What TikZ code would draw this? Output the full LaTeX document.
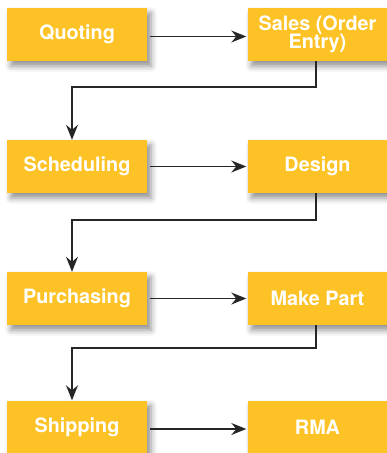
\documentclass[tikz,border=0pt]{standalone}
\usepackage{fontspec}
\setmainfont{TeX Gyre Heros}
\usetikzlibrary{arrows.meta,shadows.blur}

\definecolor{boxbgcolor}{HTML}{FDC326}
\colorlet{boxfgcolor}{white}
\colorlet{linecolor}{black!85}

\tikzset{
    stepbox/.style={fill=boxbgcolor, text=boxfgcolor, inner sep=0pt,
        minimum width=140pt, minimum height=53pt, align=center,
        font=\bfseries\fontsize{19.8}{18.6}\selectfont,
        blur shadow={shadow xshift=4pt, shadow yshift=-5pt,
            shadow blur radius=6pt, shadow opacity=45}},
    flow/.style={draw=linecolor, line width=1.5pt,
        -{Stealth[length=15pt, width=12pt, inset=5pt]}},
}

\begin{document}
\begin{tikzpicture}[x=1pt, y=1pt]
        \useasboundingbox (0,0) rectangle (387,-453);

        \node (Q) [stepbox] at (77,-34.5) {Quoting};
        \node (S) [stepbox] at (317.5,-34.5) {Sales (Order\\Entry)};
        \node (C) [stepbox] at (77,-166.5) {Scheduling};
        \node (D) [stepbox] at (317.5,-166.5) {Design};
        \node (P) [stepbox] at (77,-298.5) {Purchasing};
        \node (M) [stepbox] at (317.5,-298.5) {Make Part};
        \node (H) [stepbox] at (77,-427) {Shipping};
        \node (R) [stepbox] at (317.5,-427) {RMA};

        % across each row
        \draw [flow, shorten <=3pt, shorten >=1pt] ([yshift=-2pt]Q.east) -- ([yshift=-2pt]Q.east -| S.west);
        \draw [flow, shorten <=3pt, shorten >=1pt] (C.east) -- (D.west);
        \draw [flow, shorten <=3pt, shorten >=1pt] (P.east) -- (M.west);
        \draw [flow, shorten <=3pt, shorten >=1pt] ([yshift=-2pt]H.east) -- ([yshift=-2pt]H.east -| R.west);

        % down to the next row
        \draw [flow] ([xshift=-1.5pt]S.south) -- ++(0,-26) -| ([xshift=-5pt]C.north);
        \draw [flow] ([xshift=-1.5pt]D.south) -- ++(0,-27) -| ([xshift=-5pt]P.north);
        \draw [flow] ([xshift=-1.5pt]M.south) -- ++(0,-23) -| ([xshift=-5pt]H.north);
    \end{tikzpicture}
\end{document}
